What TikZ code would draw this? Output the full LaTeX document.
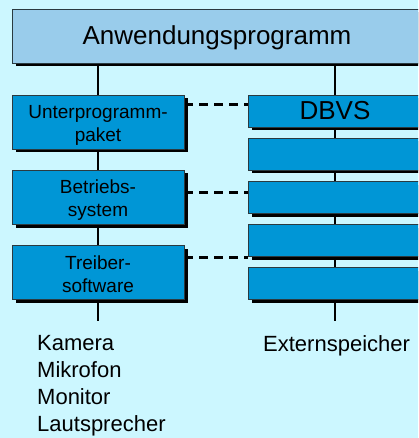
\documentclass[tikz,border=0pt]{standalone}
\usepackage{fontspec}
\setmainfont{Liberation Sans}
\usetikzlibrary{shadows,backgrounds}
\definecolor{bgcyan}{HTML}{CCF7FF}
\definecolor{headblue}{HTML}{99CCEB}
\definecolor{boxblue}{HTML}{0096D6}
\definecolor{edgegray}{HTML}{2A3A40}
\begin{document}
\begin{tikzpicture}[x=1pt,y=-1pt,
  box/.style={draw=edgegray, line width=0.8pt, inner sep=0pt, align=center,
    drop shadow={shadow xshift=3.8pt, shadow yshift=-3.5pt, fill=black, opacity=1}},
  headbox/.style={box, fill=headblue, minimum width=410pt, minimum height=54pt,
    text height=19pt, text depth=1pt, font=\fontsize{26}{30}\selectfont},
  layerbox/.style={box, fill=boxblue, minimum width=172pt, minimum height=54pt,
    text height=43.6pt, text depth=4pt, font=\fontsize{19}{23}\selectfont},
  dbbox/.style={box, fill=boxblue, minimum width=174pt, minimum height=32pt,
    font=\fontsize{26}{30}\selectfont},
  listtext/.style={inner sep=0pt, align=left, font=\fontsize{22}{27}\selectfont},
  stem/.style={line width=2.2pt, black},
  link/.style={line width=3pt, black, dash pattern=on 9pt off 6pt}]
\useasboundingbox (0,0) rectangle (418,438);
\begin{scope}
  \clip (0,0) rectangle (418,438);
  % application layer spanning the whole width
  \node[headbox] (app) at (217,36) {Anwendungsprogramm};
  % left column: software layers
  \node[layerbox] (upp) at (98,122) {Unterprogramm-\\paket};
  \node[layerbox] (bs)  at (98,197) {Betriebs-\\system};
  \node[layerbox] (drv) at (98,272.5) {Treiber-\\software};
  % right column: database system layers
  \node[dbbox] (db1) at (335,111) {DBVS};
  \node[dbbox] (db2) at (335,154) {};
  \node[dbbox] (db3) at (335,197.5) {};
  \node[dbbox] (db4) at (335,240) {};
  \node[dbbox] (db5) at (335,283.5) {};
  % loose ends of the two stems
  \coordinate (devend) at (98,321);
  \coordinate (memend) at (335,321);
  % devices and storage
  \node[listtext, anchor=north west] (dev) at (37,335) {Kamera\\Mikrofon\\Monitor\\Lautsprecher};
  \node[listtext, anchor=base west] (mem) at (263,351) {Externspeicher};
\end{scope}
\begin{scope}[on background layer]
  \fill[bgcyan] (0,0) rectangle (418,438);
  \draw[stem] (app.south -| upp) -- (devend);
  \draw[stem] (app.south -| db1) -- (memend);
  \draw[link] ([yshift=17pt]upp.east) -- ([yshift=17pt]upp.east -| db1.west);
  \draw[link] ([yshift=5pt]bs.east) -- ([yshift=5pt]bs.east -| db3.west);
  \draw[link] ([yshift=15.5pt]drv.east) -- ([yshift=15.5pt]drv.east -| db4.west);
\end{scope}
\end{tikzpicture}
\end{document}
